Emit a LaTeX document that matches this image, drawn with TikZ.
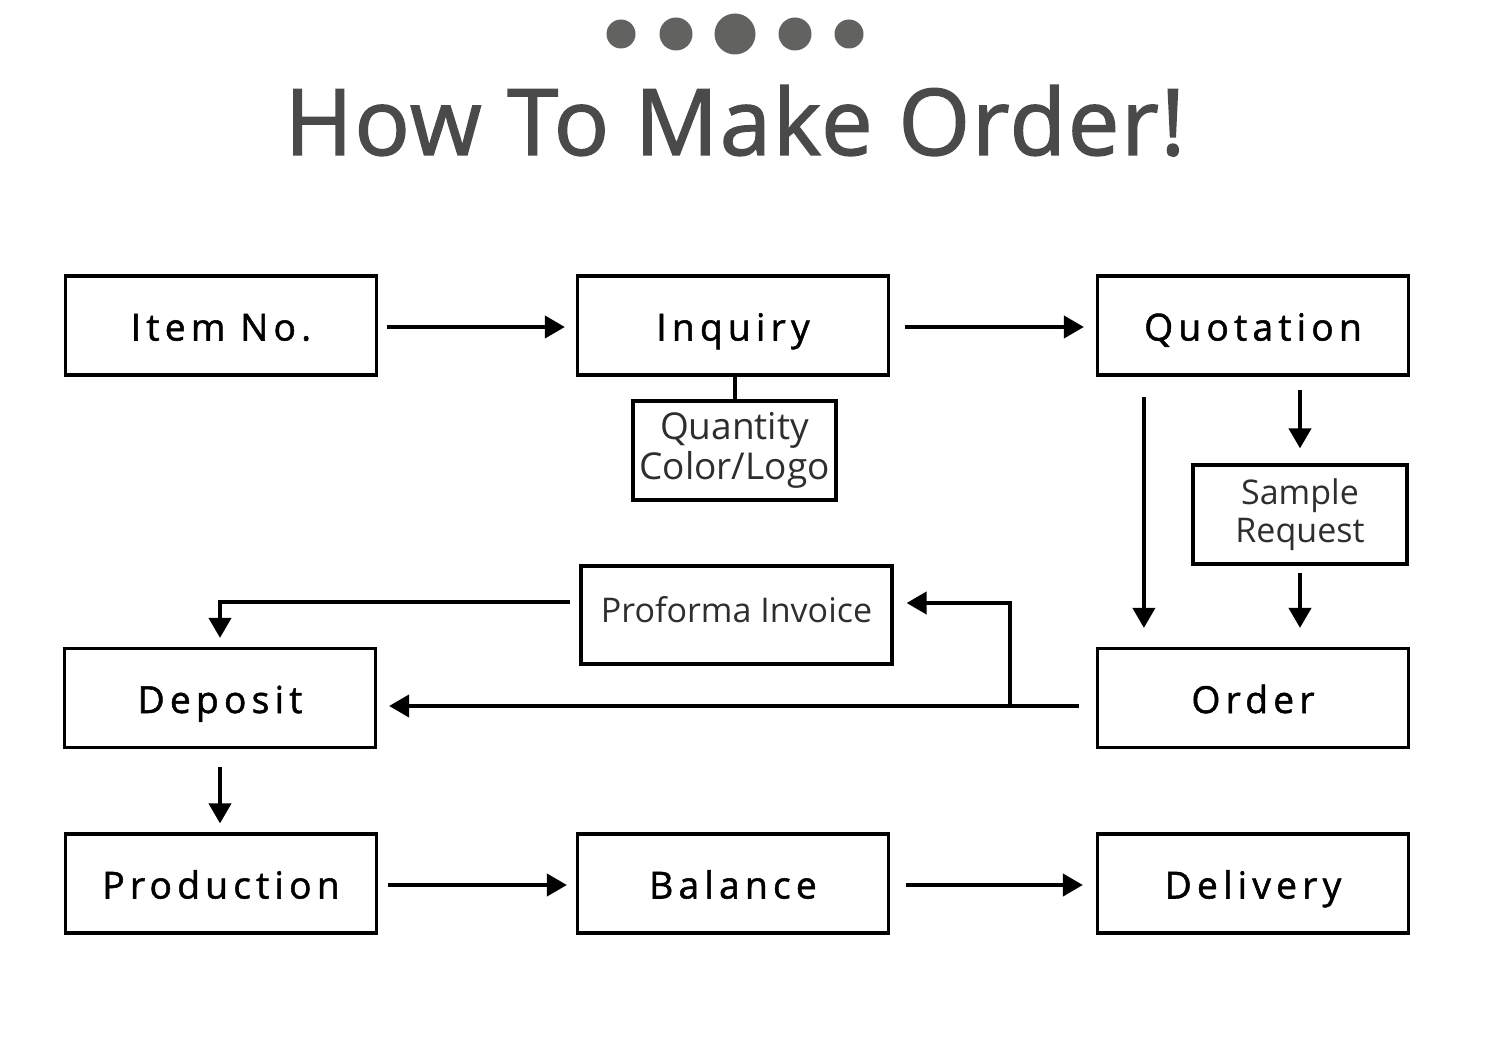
\documentclass[tikz,border=0pt]{standalone}
\usepackage{fontspec}
\setmainfont{Open Sans}
\newfontfamily\labfont[LetterSpace=14,FakeBold=1.4]{Open Sans}
\newfontfamily\titlefont[LetterSpace=2,FakeBold=1.6]{Open Sans}
\usetikzlibrary{arrows.meta,calc}
\definecolor{titlegray}{HTML}{4A4A4A}
\definecolor{dotgray}{HTML}{626260}
\definecolor{txtgray}{HTML}{2E2E2E}
\tikzset{
  box/.style={draw=black, line width=1.6pt, rectangle, inner sep=0pt,
    minimum width=155.5pt, minimum height=49.5pt},
  lab/.style={font=\labfont\fontsize{18.6pt}{20pt}\selectfont, text=black,
    text height=16pt, text depth=1pt},
  small/.style={font=\fontsize{17pt}{19pt}\selectfont, text=txtgray, align=center},
  conn/.style={line width=2pt},
  arr/.style={line width=2pt, -{Triangle[length=10pt,width=11pt]}},
  dot/.style={circle, fill=dotgray, inner sep=0pt}
}
\begin{document}
\begin{tikzpicture}[x=0.5pt,y=-0.5pt]
\useasboundingbox (0,0) rectangle (1500,1037);
% dots
\node[dot, minimum size=14.5pt] (d1) at (621,34) {};
\node[dot, minimum size=16.5pt] (d2) at (676,34) {};
\node[dot, minimum size=20.5pt] (d3) at (735,34) {};
\node[dot, minimum size=16.5pt] (d4) at (795,34) {};
\node[dot, minimum size=14.5pt] (d5) at (849,34) {};
% title
\node[anchor=base, text=titlegray, font=\titlefont\fontsize{46pt}{50pt}\selectfont, inner sep=0pt] (title) at (735,155) {How To Make Order!};
% boxes
\node[box, lab] (item) at (221,325.5) {Item No.};
\node[box, lab] (inq) at (733,325.5) {Inquiry};
\node[box, lab] (quot) at (1253,325.5) {Quotation};
\node[box, small, font=\fontsize{18.5pt}{20pt}\selectfont, minimum width=101.5pt, minimum height=49.5pt] (qty) at (734.5,450.5) {Quantity\\Color/Logo};
\node[box, small, minimum width=107pt, minimum height=49.5pt] (sample) at (1300,514.5) {Sample\\Request};
\node[box, small, minimum width=155.5pt, minimum height=49pt, text height=13pt, text depth=6pt] (pro) at (736.5,615) {Proforma Invoice};
\node[box, lab] (dep) at (220,698) {Deposit};
\node[box, lab] (order) at (1253,698) {Order};
\node[box, lab] (prod) at (221,883.5) {Production};
\node[box, lab] (bal) at (733,883.5) {Balance};
\node[box, lab] (deliv) at (1253,883.5) {Delivery};
% connectors
\draw[arr, shorten <=4.5pt, shorten >=5.5pt] ($(item.east)+(0,1.5)$) -- ($(inq.west)+(0,1.5)$);
\draw[arr, shorten <=7.5pt, shorten >=6pt] ($(inq.east)+(0,1.5)$) -- ($(quot.west)+(0,1.5)$);
\draw[conn] (inq.south -| qty.north) -- (qty.north);
\draw[arr, shorten <=10pt, shorten >=9.5pt] ($(quot.south west)+(48,0)$) -- ($(order.north west)+(48,0)$);
\draw[arr, shorten <=6.5pt, shorten >=7.5pt] (sample.north |- quot.south) -- (sample.north);
\draw[arr, shorten <=3.5pt, shorten >=9.5pt] (sample.south) -- (sample.south |- order.north);
\draw[arr, shorten <=8.5pt, shorten >=6pt] ($(order.west)+(0,8)$) -- ($(dep.east)+(0,8)$);
\coordinate (br) at (1010,706);
\coordinate (brtop) at (1010,603);
\draw[arr, shorten >=6.5pt] (br) -- (brtop) -- (brtop -| pro.east);
\draw[arr, shorten <=4.5pt, shorten >=4.5pt] ($(pro.west)+(0,-13)$) -| (dep.north);
\draw[arr, shorten <=9pt, shorten >=4.5pt] (dep.south) -- (dep.south |- prod.north);
\draw[arr, shorten <=5pt, shorten >=4.5pt] ($(prod.east)+(0,1.5)$) -- ($(bal.west)+(0,1.5)$);
\draw[arr, shorten <=8pt, shorten >=6.5pt] ($(bal.east)+(0,1.5)$) -- ($(deliv.west)+(0,1.5)$);
\end{tikzpicture}
\end{document}
